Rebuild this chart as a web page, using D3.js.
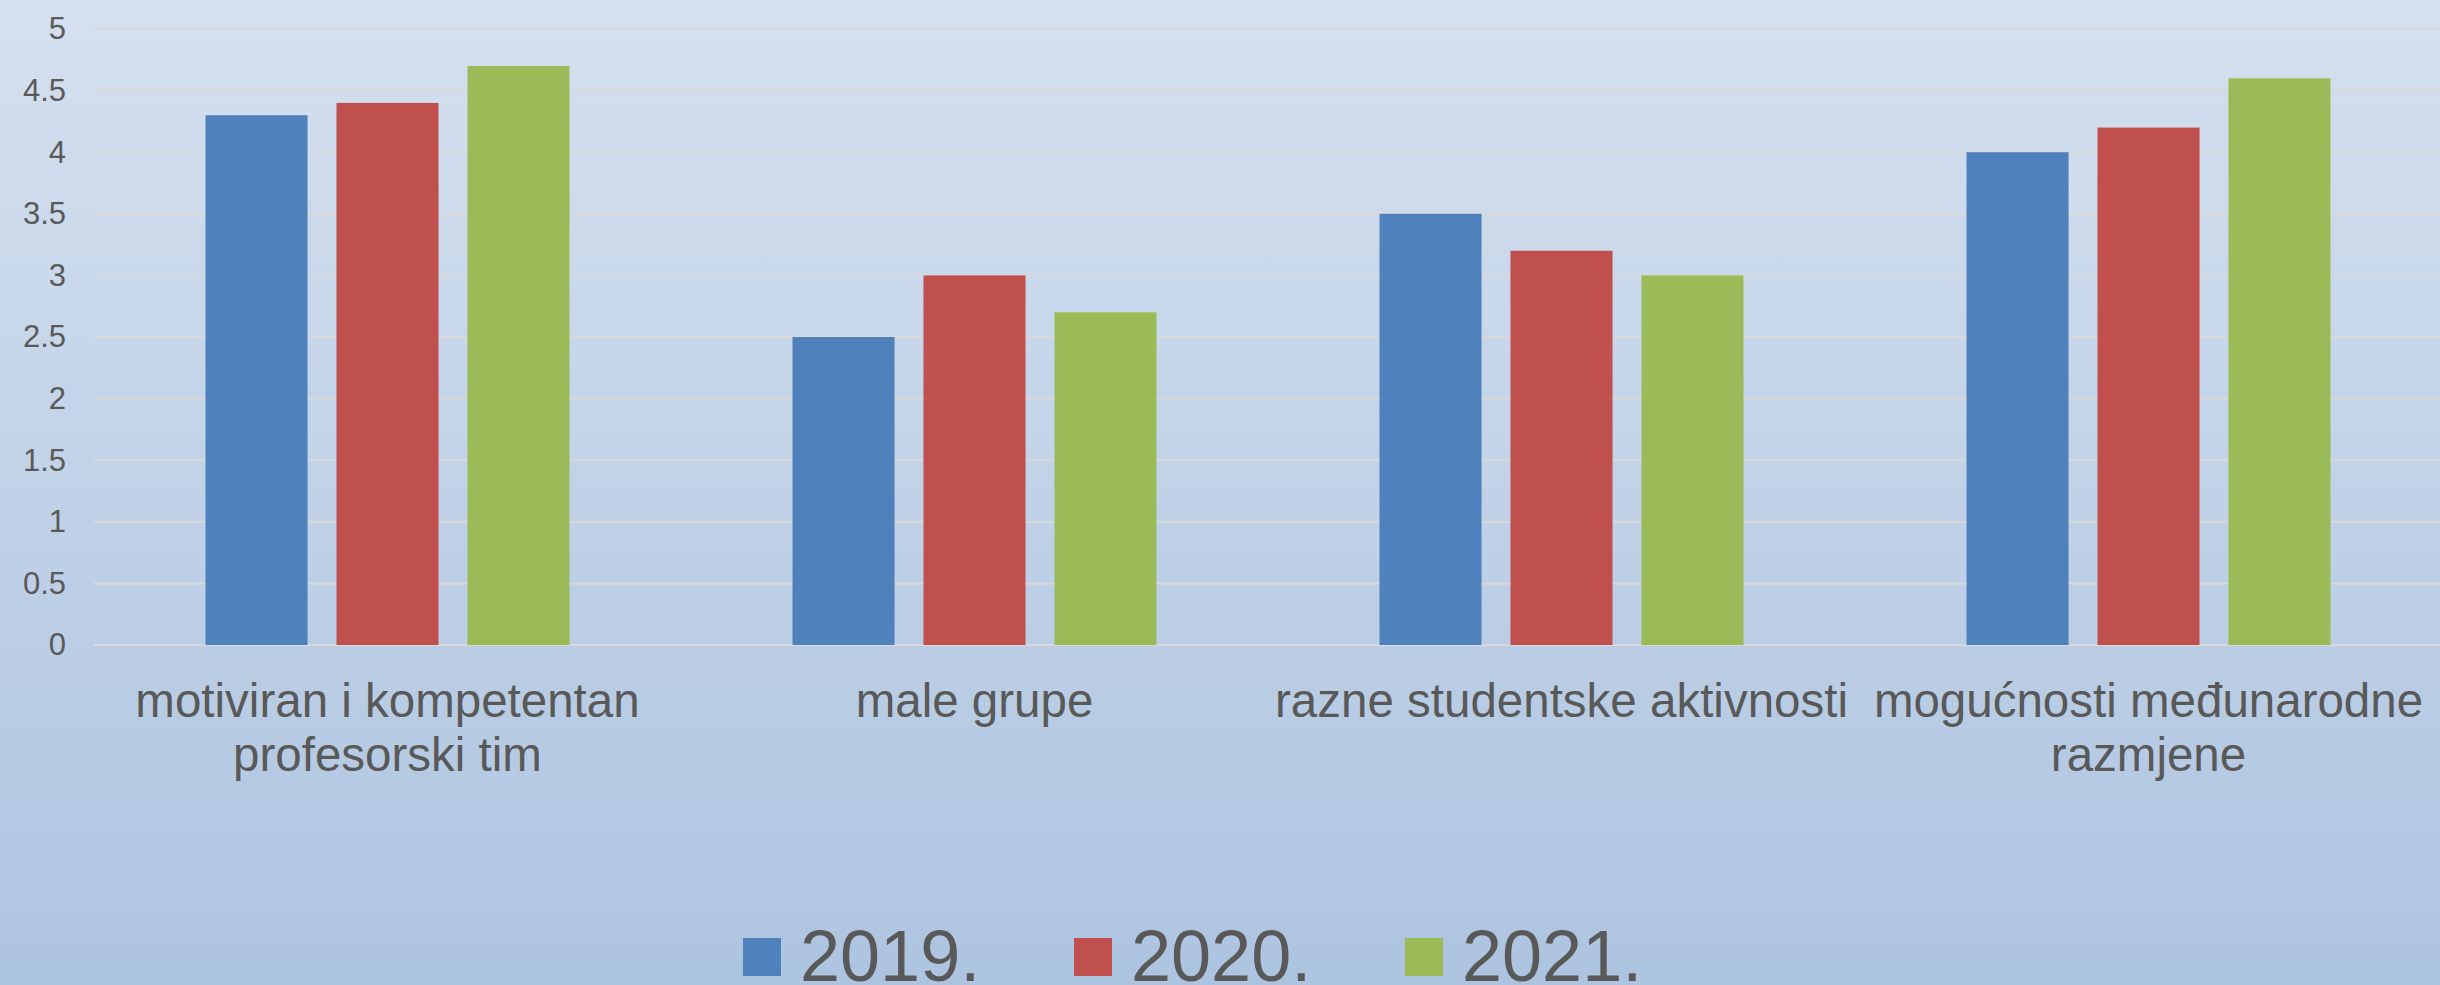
<!DOCTYPE html>
<html>
<head>
<meta charset="utf-8">
<script src="https://cdn.jsdelivr.net/npm/d3@7"></script>
<style>
  html, body { margin: 0; padding: 0; }
  body { width: 2440px; height: 985px; overflow: hidden; }
</style>
</head>
<body>
<div id="chart-container"></div>
<script>
// categories on the x axis
const categories = [
    "motiviran i kompetentan profesorski tim",
    "male grupe",
    "razne studentske aktivnosti",
    "mogućnosti međunarodne razmjene"
];

// one series per year
const seriesNames = ["2019.", "2020.", "2021."];
const values2019 = [4.3, 2.5, 3.5, 4.0];
const values2020 = [4.4, 3.0, 3.2, 4.2];
const values2021 = [4.7, 2.7, 3.0, 4.6];

// y axis tick labels
const yTicks = [0, 0.5, 1, 1.5, 2, 2.5, 3, 3.5, 4, 4.5, 5];

const drawChart = () => {
    const width = 2440;
    const height = 985;

    // plot area
    const margin = { top: 29, right: -2, bottom: 340, left: 94 };

    const colors = ["#4f81bd", "#c0504d", "#9bbb59"];
    const textColor = "#595959";

    const seriesValues = [values2019, values2020, values2021];
    const data = categories.map((c, i) => ({
        name: c,
        values: seriesNames.map((s, j) => ({ series: s, value: seriesValues[j][i] }))
    }));

    const svg = d3.select("#chart-container")
        .append("svg")
        .attr("width", width)
        .attr("height", height)
        .style("font-family", "'Liberation Sans', Arial, sans-serif");

    // background gradient
    const defs = svg.append("defs");
    const grad = defs.append("linearGradient")
        .attr("id", "bg")
        .attr("x1", 0).attr("y1", 0).attr("x2", 0).attr("y2", 1);
    grad.append("stop").attr("offset", "0%").attr("stop-color", "#d5e0ef");
    grad.append("stop").attr("offset", "100%").attr("stop-color", "#adc4e0");

    svg.append("rect")
        .attr("width", width)
        .attr("height", height)
        .attr("fill", "url(#bg)");

    // scales
    const x0 = d3.scaleBand()
        .domain(categories)
        .range([margin.left, width - margin.right])
        .padding(0);

    const x1 = d3.scaleBand()
        .domain(seriesNames)
        .range([111.5, x0.bandwidth() - 111.5])
        .paddingInner(0.221)
        .paddingOuter(0);

    const y = d3.scaleLinear()
        .domain([0, 5])
        .range([height - margin.bottom, margin.top]);

    const color = d3.scaleOrdinal()
        .domain(seriesNames)
        .range(colors);

    // grid lines
    svg.append("g")
        .selectAll("line")
        .data(yTicks)
        .join("line")
        .attr("x1", margin.left)
        .attr("x2", width)
        .attr("y1", d => y(d))
        .attr("y2", d => y(d))
        .attr("stroke", "#d9d9d9")
        .attr("stroke-width", 2);

    // y axis labels
    const yAxis = svg.append("g")
        .attr("transform", `translate(${margin.left},0)`)
        .call(d3.axisLeft(y).tickValues(yTicks).tickSize(0).tickPadding(28).tickFormat(d3.format("")));
    yAxis.select(".domain").remove();
    yAxis.selectAll("text")
        .attr("fill", textColor)
        .attr("font-size", 31)
        .attr("font-family", "'Liberation Sans', Arial, sans-serif");

    // bars
    svg.append("g")
        .selectAll("g")
        .data(data)
        .join("g")
        .attr("transform", d => `translate(${x0(d.name)},0)`)
        .selectAll("rect")
        .data(d => d.values)
        .join("rect")
        .attr("x", d => x1(d.series))
        .attr("y", d => y(d.value))
        .attr("width", x1.bandwidth())
        .attr("height", d => y(0) - y(d.value))
        .attr("fill", d => color(d.series));

    // x axis labels
    const xAxis = svg.append("g")
        .attr("transform", `translate(0,${y(0)})`)
        .call(d3.axisBottom(x0).tickSize(0).tickPadding(0));
    xAxis.select(".domain").remove();
    xAxis.selectAll("text")
        .attr("fill", textColor)
        .attr("font-size", 47.5)
        .attr("font-family", "'Liberation Sans', Arial, sans-serif")
        .attr("y", 0)
        .attr("dy", null)
        .call(wrap, 592);

    // legend
    const legend = svg.append("g")
        .selectAll("g")
        .data(seriesNames)
        .join("g")
        .attr("transform", (d, i) => `translate(${743 + i * 331},0)`);

    legend.append("rect")
        .attr("x", 0)
        .attr("y", 938)
        .attr("width", 38)
        .attr("height", 38)
        .attr("fill", d => color(d));

    legend.append("text")
        .attr("x", 57)
        .attr("y", 981)
        .attr("font-size", 72)
        .attr("fill", textColor)
        .text(d => d);
};

// wrap long category labels into several lines
function wrap(text, maxWidth) {
    text.each(function () {
        const t = d3.select(this);
        const words = t.text().split(/\s+/);
        t.text(null);
        let line = [];
        let lineNo = 0;
        let tspan = t.append("tspan").attr("x", 0).attr("y", 72);
        words.forEach(word => {
            line.push(word);
            tspan.text(line.join(" "));
            if (tspan.node().getComputedTextLength() > maxWidth && line.length > 1) {
                line.pop();
                tspan.text(line.join(" "));
                line = [word];
                lineNo += 1;
                tspan = t.append("tspan").attr("x", 0).attr("y", 72 + lineNo * 54).text(word);
            }
        });
    });
}

drawChart();
</script>
</body>
</html>
